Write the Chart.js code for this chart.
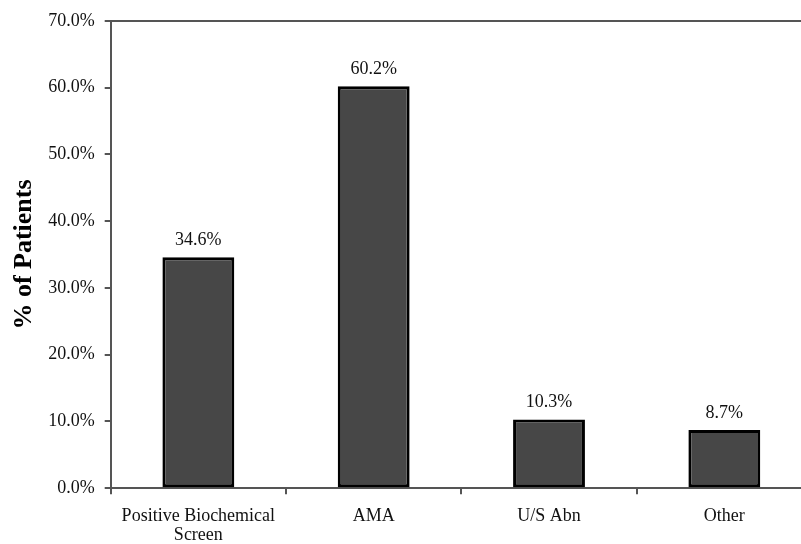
<!DOCTYPE html>
<html>
<head>
<meta charset="utf-8">
<script src="https://cdn.jsdelivr.net/npm/chart.js@4"></script>
<style>
  html, body { margin: 0; padding: 0; background: #fff; overflow: hidden; }
  #wrap { width: 813px; height: 544px; position: relative; }
</style>
</head>
<body>
<div id="wrap"><canvas id="chart"></canvas></div>
<script>
const categories = [["Positive Biochemical", "Screen"], "AMA", "U/S Abn", "Other"];
const percentPatients = [34.6, 60.2, 10.3, 8.7];
const yTicks = [0, 10, 20, 30, 40, 50, 60, 70];

const serif = "'Liberation Serif', 'DejaVu Serif', serif";

// value labels above each bar
const barLabels = {
    id: 'barLabels',
    afterDatasetsDraw(chart) {
        const ctx = chart.ctx;
        const meta = chart.getDatasetMeta(0);
        ctx.save();
        ctx.font = "18px " + serif;
        ctx.fillStyle = '#111';
        ctx.textAlign = 'center';
        ctx.textBaseline = 'alphabetic';
        meta.data.forEach((bar, i) => {
            ctx.fillText(percentPatients[i].toFixed(1) + '%', bar.x, bar.y - 12);
        });
        ctx.restore();
    }
};

new Chart(document.getElementById('chart'), {
    type: 'bar',
    data: {
        labels: categories,
        datasets: [{
            data: percentPatients,
            backgroundColor: '#474747',
            borderColor: '#000',
            borderWidth: 3,
            borderSkipped: false,
            barPercentage: 0.41,
            categoryPercentage: 1
        }]
    },
    options: {
        responsive: true,
        maintainAspectRatio: false,
        animation: false,
        layout: { padding: { top: 10, right: 1, left: 3, bottom: -14 } },
        plugins: { legend: { display: false }, tooltip: { enabled: false } },
        scales: {
            x: {
                grid: { drawOnChartArea: false, drawTicks: true, tickLength: 6, color: '#555', lineWidth: 2, offset: true },
                border: { color: '#555', width: 2 },
                ticks: { color: '#111', font: { family: serif, size: 18, lineHeight: 1.05 }, padding: 13, maxRotation: 0 }
            },
            y: {
                min: 0,
                max: 70,
                afterBuildTicks(axis) { axis.ticks = yTicks.map(v => ({ value: v })); },
                grid: {
                    color: c => (c.tick && c.tick.value === 70) ? '#555' : 'rgba(0,0,0,0)',
                    tickColor: '#555',
                    lineWidth: 2,
                    tickLength: 6
                },
                border: { color: '#555', width: 2 },
                ticks: {
                    color: '#111',
                    font: { family: serif, size: 18 },
                    padding: 10,
                    callback: v => v.toFixed(1) + '%'
                },
                title: {
                    display: true,
                    text: '% of Patients',
                    color: '#000',
                    font: { family: serif, size: 26, weight: 'bold' },
                    padding: { top: 6, bottom: -2 }
                }
            }
        }
    },
    plugins: [barLabels]
});
</script>
</body>
</html>
